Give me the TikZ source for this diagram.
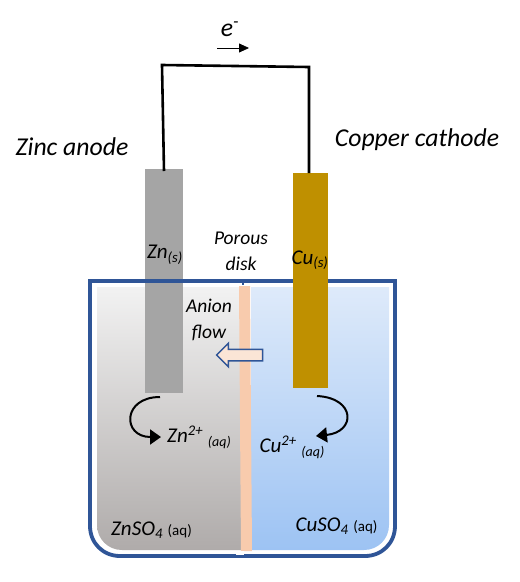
\documentclass[tikz,border=0pt]{standalone}
\usepackage{fontspec}
\setmainfont{Carlito}
\usetikzlibrary{arrows.meta, positioning, shapes.arrows}
\definecolor{beakerblue}{HTML}{2F5597}
\definecolor{zincgray}{HTML}{A5A5A5}
\definecolor{coppergold}{HTML}{BF9000}
\definecolor{diskpeach}{HTML}{F8CBAD}
\definecolor{flowfill}{HTML}{FBE5D6}
\definecolor{zinctop}{HTML}{F2F2F2}
\definecolor{zincbottom}{HTML}{AFABAA}
\definecolor{coppertop}{HTML}{DEEAFA}
\definecolor{copperbottom}{HTML}{9DC3F3}
\newcommand{\aqsub}{\raisebox{-3.5pt}{\fontsize{14}{16}\selectfont (aq)}}
\newcommand{\aqplain}{{\upshape\fontsize{15}{18}\selectfont (aq)}}

\begin{document}
\begin{tikzpicture}[
    x=1pt, y=-1pt,
    electrode/.style={rectangle, inner sep=0pt, outer sep=0pt},
    bigtext/.style={inner sep=0pt, align=center, font=\fontsize{25.7}{30}\selectfont\itshape},
    midtext/.style={inner sep=0pt, align=center, font=\fontsize{21}{25}\selectfont\itshape},
    smalltext/.style={inner sep=0pt, align=center, font=\fontsize{19.5}{26}\selectfont\itshape},
    wire/.style={line width=2.6pt, line join=miter},
    swirl/.style={line width=2pt, -{Triangle[length=11pt, width=15pt]}}
]
\useasboundingbox (0,0) rectangle (520,582);

% Solutions
\shade[top color=zinctop, bottom color=zincbottom]
    (97,287) -- (241,287) -- (241,550) -- (122,550) .. controls (108,550) and (97,539) .. (97,525) -- cycle;
\shade[top color=coppertop, bottom color=copperbottom]
    (251,287) -- (389,287) -- (389,525) .. controls (389,539) and (378,550) .. (364,550) -- (251,550) -- cycle;

% Porous disk
\fill[diskpeach] (239,286) -- (250,286) -- (252,551) -- (241,551) -- cycle;

% Electrodes and beaker
\node[electrode, fill=zincgray, minimum width=38pt, minimum height=224pt] (zinc) at (164,281) {};
\draw[beakerblue, line width=3.8pt] (90,281) -- (90,526) .. controls (90,543) and (103,556) .. (120,556)
    -- (365,556) .. controls (382,556) and (395,543) .. (395,526) -- (395,281) -- cycle;
\fill[beakerblue] (242.3,282) rectangle (244,284.5);
\node[electrode, fill=coppergold, minimum width=35pt, minimum height=215pt] (copper) at (310.5,280.5) {};
\fill[white] (236,551) rectangle (244,555);

% External wire
\coordinate (wireleft) at (162,65);
\coordinate (wireright) at (309,67);
\draw[wire] (zinc.north) ++(0,2) -- (wireleft) -- (wireright) -- (wireright |- copper.north);

% Electron flow
\node[bigtext] (electron) at (230,29) {e\textsuperscript{-}};
\coordinate (electronstart) at (217,48);
\coordinate (electronend) at (249,48);
\draw[line width=0.8pt, -{Triangle[length=10pt, width=9pt]}] (electronstart) -- (electronend);

% Anion flow arrow
\node[single arrow, draw=beakerblue, fill=flowfill, line width=1.5pt, shape border rotate=180,
    minimum width=23pt, minimum height=46pt, single arrow head extend=6pt, single arrow head indent=0pt,
    inner sep=5pt, outer sep=0pt] (anionarrow) at (242.5,355) {};

% Reactions at electrodes
\coordinate (zincstart) at (160,397);
\coordinate (zincend) at (161,437);
\coordinate (copperstart) at (317,396);
\coordinate (copperend) at (316,436);
\draw[swirl] (zincstart) .. controls (122,397) and (122,437) .. (zincend);
\draw[swirl] (copperstart) .. controls (356,398) and (356,432) .. (copperend);

% Labels
\node[bigtext] (zinclabel) at (72,147) {Zinc anode};
\node[bigtext] (copperlabel) at (417,140) {Copper cathode};
\node[smalltext] (disklabel) at (241,251) {Porous\\disk};
\node[midtext] (znlabel) at (165,255) {Zn\textsubscript{(s)}};
\node[midtext] (culabel) at (310,260) {Cu\textsubscript{(s)}};
\node[smalltext] (flowlabel) at (209,320) {Anion\\flow};
\node[midtext] (znion) at (199,437) {Zn\textsuperscript{2+} \aqsub};
\node[midtext] (cuion) at (292,447) {Cu\textsuperscript{2+} \aqsub};
\node[midtext] (znsalt) at (151.5,530) {ZnSO\textsubscript{4} \aqplain};
\node[midtext] (cusalt) at (336.5,526) {CuSO\textsubscript{4} \aqplain};

\end{tikzpicture}
\end{document}
